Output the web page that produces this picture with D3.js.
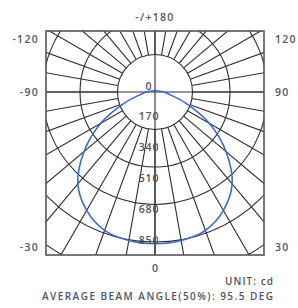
<!DOCTYPE html>
<html>
<head>
<meta charset="utf-8">
<script src="https://cdn.jsdelivr.net/npm/d3@7"></script>
<style>
    body { margin: 0; background: #fff; }
    svg text { font-family: "Open Sans", "Liberation Sans", sans-serif; fill: #4f5566; font-weight: 600; }
</style>
</head>
<body>
<div id="chart"></div>
<script>
// angles (deg from nadir) and candela values, same on both sides
var angulos = [0, 10, 20, 30, 40, 50, 60, 70, 80, 90, 100, 110, 120, 130, 140, 150, 160, 170, 180];
var candelas = [860, 855, 835, 775, 680, 525, 355, 185, 85, 50, 25, 15, 12, 10, 10, 10, 10, 10, 10];

var anillos = [212.5, 425, 637.5, 850, 1062.5, 1275, 1487.5];   // grid circles
var etiquetas_r = [0, 170, 340, 510, 680, 850];                   // labels on 0 axis
var etiquetas_izq = ["-120", "-90", "-30"];
var etiquetas_der = ["120", "90", "30"];

var width = 298, height = 308;
var cx = 155, cy = 92;
var marco = { x0: 46, y0: 31, x1: 264, y1: 255 };

var svg = d3.select("#chart")
    .append("svg")
    .attr("width", width)
    .attr("height", height);

var r = d3.scaleLinear().domain([0, 850]).range([0, 150]);

svg.append("clipPath").attr("id", "clip")
    .append("rect")
    .attr("x", marco.x0).attr("y", marco.y0)
    .attr("width", marco.x1 - marco.x0).attr("height", marco.y1 - marco.y0);

var grid = svg.append("g").attr("clip-path", "url(#clip)")
    .attr("stroke", "#2e2e2e").attr("fill", "none").attr("stroke-width", 1.1);

// circles
grid.selectAll("circle")
    .data(anillos)
    .enter()
    .append("circle")
    .attr("cx", cx).attr("cy", cy)
    .attr("r", function (d) { return r(d); });

// radial lines every 10 deg
var rayos = d3.range(0, 360, 10);
grid.selectAll("line.rayo")
    .data(rayos)
    .enter()
    .append("line")
    .attr("class", "rayo")
    .attr("x1", function (d) { return cx + r(anillos[0]) * Math.sin(d * Math.PI / 180); })
    .attr("y1", function (d) { return cy + r(anillos[0]) * Math.cos(d * Math.PI / 180); })
    .attr("x2", function (d) { return cx + 400 * Math.sin(d * Math.PI / 180); })
    .attr("y2", function (d) { return cy + 400 * Math.cos(d * Math.PI / 180); });

// axes through center
grid.append("line").attr("x1", marco.x0).attr("x2", marco.x1).attr("y1", cy).attr("y2", cy);
grid.append("line").attr("x1", cx).attr("x2", cx).attr("y1", marco.y0).attr("y2", marco.y1);

// frame
svg.append("rect")
    .attr("x", marco.x0).attr("y", marco.y0)
    .attr("width", marco.x1 - marco.x0).attr("height", marco.y1 - marco.y0)
    .attr("fill", "none").attr("stroke", "#555").attr("stroke-width", 1.6);

// curve (mirror the right side)
var puntos = [];
for (var i = 0; i < angulos.length; i++) {
    puntos.push([angulos[i], candelas[i]]);
}
for (var j = angulos.length - 2; j > 0; j--) {
    puntos.push([360 - angulos[j], candelas[j]]);
}

var linea = d3.lineRadial()
    .angle(function (d) { return Math.PI - d[0] * Math.PI / 180; })
    .radius(function (d) { return r(d[1]); })
    .curve(d3.curveCatmullRomClosed);

svg.append("path")
    .datum(puntos)
    .attr("transform", "translate(" + cx + "," + cy + ")")
    .attr("d", linea)
    .attr("fill", "none")
    .attr("stroke", "#3b6cc8")
    .attr("stroke-width", 1.6);

// value labels along the 0 axis
svg.selectAll("text.val")
    .data(etiquetas_r)
    .enter()
    .append("text")
    .attr("class", "val")
    .attr("x", 149)
    .attr("y", function (d) { return cy - 2.5 + r(d) * 1.03; })
    .attr("text-anchor", "middle")
    .attr("font-size", 10.5)
    .attr("letter-spacing", 0.8)
    .text(function (d) { return d; });

var ys = [43, 96, 251];
svg.selectAll("text.izq")
    .data(etiquetas_izq)
    .enter()
    .append("text")
    .attr("x", 39)
    .attr("y", function (d, i) { return ys[i]; })
    .attr("text-anchor", "end")
    .attr("font-size", 10.5)
    .attr("letter-spacing", 1.3)
    .text(function (d) { return d; });

svg.selectAll("text.der")
    .data(etiquetas_der)
    .enter()
    .append("text")
    .attr("x", 275)
    .attr("y", function (d, i) { return ys[i]; })
    .attr("font-size", 10.5)
    .attr("letter-spacing", 1.3)
    .text(function (d) { return d; });

svg.append("text").attr("x", cx).attr("y", 21).attr("text-anchor", "middle")
    .attr("font-size", 10.5).attr("letter-spacing", 1.3).text("-/+180");
svg.append("text").attr("x", cx).attr("y", 272).attr("text-anchor", "middle")
    .attr("font-size", 10.5).text("0");
svg.append("text").attr("x", 225).attr("y", 284.5)
    .attr("font-size", 10).attr("textLength", 48).attr("lengthAdjust", "spacing")
    .text("UNIT: cd");
svg.append("text").attr("x", 42).attr("y", 299.5)
    .attr("font-size", 10).attr("textLength", 231).attr("lengthAdjust", "spacing")
    .text("AVERAGE BEAM ANGLE(50%): 95.5 DEG");
</script>
</body>
</html>
